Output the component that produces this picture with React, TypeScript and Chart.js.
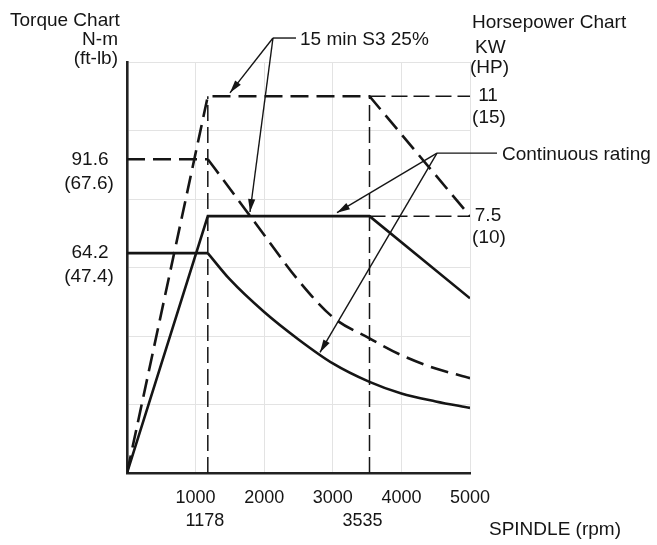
import React, { useEffect, useRef } from "react";
import { Chart, registerables } from "chart.js";
Chart.register(...registerables);

// ---- data ----
const rpmTicks = [0, 1000, 2000, 3000, 4000, 5000];
const baseSpeeds = [1178, 3535];

const s3PowerRpm = [0, 1178, 3535, 5000];
const s3PowerKw = [0, 11, 11, 7.5];
const contPowerRpm = [0, 1178, 3535, 5000];
const contPowerKw = [0, 7.5, 7.5, 5.1];

const s3TorqueFlatRpm = [0, 1178];
const s3TorqueFlatNm = [91.6, 91.6];
const s3TorqueCurveRpm = [1178, 1500, 2000, 2500, 3000, 3535, 4000, 4500, 5000];
const s3TorqueCurveNm = [91.6, 83, 69.5, 56.2, 45.5, 39.3, 34.4, 30.5, 27.7];

const contTorqueFlatRpm = [0, 1178];
const contTorqueFlatNm = [64.2, 64.2];
const contTorqueCurveRpm = [1178, 1500, 2000, 2500, 3000, 3535, 4000, 4500, 5000];
const contTorqueCurveNm = [64.2, 56.5, 47, 39, 32, 26.6, 23.2, 20.9, 19];

const torqueLabels = [91.6, 64.2];
const torqueLabelsFtLb = ["(67.6)", "(47.4)"];
const powerLabels = [11, 7.5];
const powerLabelsHp = ["(15)", "(10)"];

// annotation anchors in data units: [rpm, value]
const s3Knot = [2128, 127]; // torque units
const s3TipPower = [1501, 11.1]; // kW
const s3TipTorque = [1793, 76.2]; // N-m
const contKnot = [4519, 9.34]; // kW
const contTipPower = [3061, 7.6]; // kW
const contTipTorque = [2813, 35.2]; // N-m

const zip = (xs: number[], ys: number[]) => xs.map((x, i) => ({ x, y: ys[i] }));

const FONT = '"Liberation Sans", Arial, sans-serif';
const INK = "#151515";

function arrow(ctx: CanvasRenderingContext2D, x0: number, y0: number, x1: number, y1: number) {
  ctx.beginPath();
  ctx.moveTo(x0, y0);
  ctx.lineTo(x1, y1);
  ctx.stroke();
  const a = Math.atan2(y1 - y0, x1 - x0);
  const L = 13, W = 3.6;
  ctx.beginPath();
  ctx.moveTo(x1, y1);
  ctx.lineTo(x1 - L * Math.cos(a) + W * Math.sin(a), y1 - L * Math.sin(a) - W * Math.cos(a));
  ctx.lineTo(x1 - L * Math.cos(a) - W * Math.sin(a), y1 - L * Math.sin(a) + W * Math.cos(a));
  ctx.closePath();
  ctx.fill();
}

const annotPlugin = {
  id: "annot",
  afterDraw(chart: any) {
    const { ctx, chartArea, scales } = chart;
    const X = scales.x, Y = scales.y, Y2 = scales.y2;
    ctx.save();
    ctx.fillStyle = INK;
    ctx.strokeStyle = INK;
    ctx.font = `19px ${FONT}`;

    // titles
    ctx.textBaseline = "alphabetic";
    ctx.textAlign = "left";
    ctx.fillText("Torque Chart", 10, 26);
    ctx.textAlign = "right";
    ctx.fillText("N-m", chartArea.left - 9, 45);
    ctx.fillText("(ft-lb)", chartArea.left - 9, 64);
    ctx.textAlign = "left";
    ctx.fillText("Horsepower Chart", chartArea.right + 2, 28);
    ctx.fillText("KW", chartArea.right + 5, 53);
    ctx.fillText("(HP)", chartArea.right, 73);

    // axis value labels
    ctx.textBaseline = "middle";
    ctx.textAlign = "center";
    torqueLabels.forEach((v, i) => {
      const py = Y.getPixelForValue(v);
      ctx.fillText(String(v), chartArea.left - 37, py);
      ctx.fillText(torqueLabelsFtLb[i], chartArea.left - 38, py + 24);
    });
    powerLabels.forEach((v, i) => {
      const py = Y2.getPixelForValue(v);
      ctx.fillText(String(v), chartArea.right + 18, py);
      ctx.fillText(powerLabelsHp[i], chartArea.right + 19, py + 22);
    });

    // base speed labels
    ctx.font = `18px ${FONT}`;
    baseSpeeds.forEach((v, i) => {
      ctx.fillText(String(v), X.getPixelForValue(v) - (i === 0 ? 3 : 7), chartArea.bottom + 48);
    });
    ctx.font = `19px ${FONT}`;
    ctx.textAlign = "left";
    ctx.fillText("SPINDLE (rpm)", chartArea.right + 19, chartArea.bottom + 57);

    // 15 min S3 annotation
    ctx.lineWidth = 1.4;
    const kx = X.getPixelForValue(s3Knot[0]);
    const ky = Y.getPixelForValue(s3Knot[1]);
    ctx.beginPath();
    ctx.moveTo(kx, ky);
    ctx.lineTo(kx + 23, ky);
    ctx.stroke();
    ctx.fillText("15 min S3 25%", kx + 27, ky + 2);
    arrow(ctx, kx, ky, X.getPixelForValue(s3TipPower[0]), Y2.getPixelForValue(s3TipPower[1]));
    arrow(ctx, kx, ky, X.getPixelForValue(s3TipTorque[0]), Y.getPixelForValue(s3TipTorque[1]));

    // Continuous rating annotation
    const cx = X.getPixelForValue(contKnot[0]);
    const cy = Y2.getPixelForValue(contKnot[1]);
    ctx.beginPath();
    ctx.moveTo(cx, cy);
    ctx.lineTo(cx + 60, cy);
    ctx.stroke();
    ctx.fillText("Continuous rating", cx + 65, cy + 2);
    arrow(ctx, cx, cy, X.getPixelForValue(contTipPower[0]), Y2.getPixelForValue(contTipPower[1]));
    arrow(ctx, cx, cy, X.getPixelForValue(contTipTorque[0]), Y.getPixelForValue(contTipTorque[1]));

    ctx.restore();
  },
};

export default function App() {
  const ref = useRef<HTMLCanvasElement | null>(null);

  useEffect(() => {
    if (!ref.current) return;
    const thick = { borderColor: INK, borderWidth: 2.6, pointRadius: 0, fill: false };
    const thickDash = { ...thick, borderDash: [18, 8] };
    const thin = { borderColor: INK, borderWidth: 1.5, pointRadius: 0, fill: false, borderDash: [16, 6] };

    const chart = new Chart(ref.current, {
      type: "line",
      data: {
        datasets: [
          // reference lines
          { ...thin, yAxisID: "y2", data: zip([baseSpeeds[0], baseSpeeds[0]], [0, s3PowerKw[1]]) },
          { ...thin, yAxisID: "y2", data: zip([baseSpeeds[1], baseSpeeds[1]], [0, s3PowerKw[2]]) },
          { ...thin, yAxisID: "y2", data: zip([baseSpeeds[1], rpmTicks[5]], [powerLabels[0], powerLabels[0]]) },
          { ...thin, yAxisID: "y2", data: zip([baseSpeeds[1], rpmTicks[5]], [powerLabels[1], powerLabels[1]]) },
          // 15 min S3
          { ...thickDash, yAxisID: "y2", data: zip(s3PowerRpm, s3PowerKw) },
          { ...thickDash, yAxisID: "y", data: zip(s3TorqueFlatRpm, s3TorqueFlatNm) },
          { ...thickDash, yAxisID: "y", cubicInterpolationMode: "monotone", data: zip(s3TorqueCurveRpm, s3TorqueCurveNm) },
          // continuous
          { ...thick, yAxisID: "y2", data: zip(contPowerRpm, contPowerKw) },
          { ...thick, yAxisID: "y", data: zip(contTorqueFlatRpm, contTorqueFlatNm) },
          { ...thick, yAxisID: "y", cubicInterpolationMode: "monotone", data: zip(contTorqueCurveRpm, contTorqueCurveNm) },
        ] as any,
      },
      options: {
        animation: false,
        responsive: false,
        events: [],
        layout: { padding: { top: 62, left: 0, right: 0, bottom: 0 } },
        plugins: { legend: { display: false }, tooltip: { enabled: false } },
        scales: {
          x: {
            type: "linear",
            min: 0,
            max: 5000,
            afterBuildTicks: (s: any) => {
              s.ticks = rpmTicks.map((v) => ({ value: v }));
            },
            afterFit: (s: any) => {
              s.height = 72;
            },
            grid: { color: "#e3e3e3", lineWidth: 1, drawTicks: false },
            border: { display: true, color: "#222", width: 2.6 },
            ticks: {
              padding: 14,
              color: INK,
              font: { family: FONT, size: 18 },
              maxRotation: 0,
              callback: (v: any) => (v === 0 ? "" : String(v)),
            },
          },
          y: {
            type: "linear",
            position: "left",
            min: 0,
            max: 120,
            ticks: { display: false, stepSize: 20 },
            afterFit: (s: any) => {
              s.width = 127;
            },
            grid: { color: "#e3e3e3", lineWidth: 1, drawTicks: false },
            border: { display: true, color: "#222", width: 2.6 },
          },
          y2: {
            type: "linear",
            position: "right",
            min: 0,
            max: 12,
            ticks: { display: false, stepSize: 2 },
            afterFit: (s: any) => {
              s.width = 187;
            },
            grid: { display: false, drawTicks: false },
            border: { display: false },
          },
        },
      } as any,
      plugins: [annotPlugin],
    });
    return () => chart.destroy();
  }, []);

  return (
    <div style={{ position: "fixed", left: 0, top: 0, width: 657, height: 545, background: "#fff" }}>
      <canvas ref={ref} width={657} height={545} style={{ display: "block" }} />
    </div>
  );
}
